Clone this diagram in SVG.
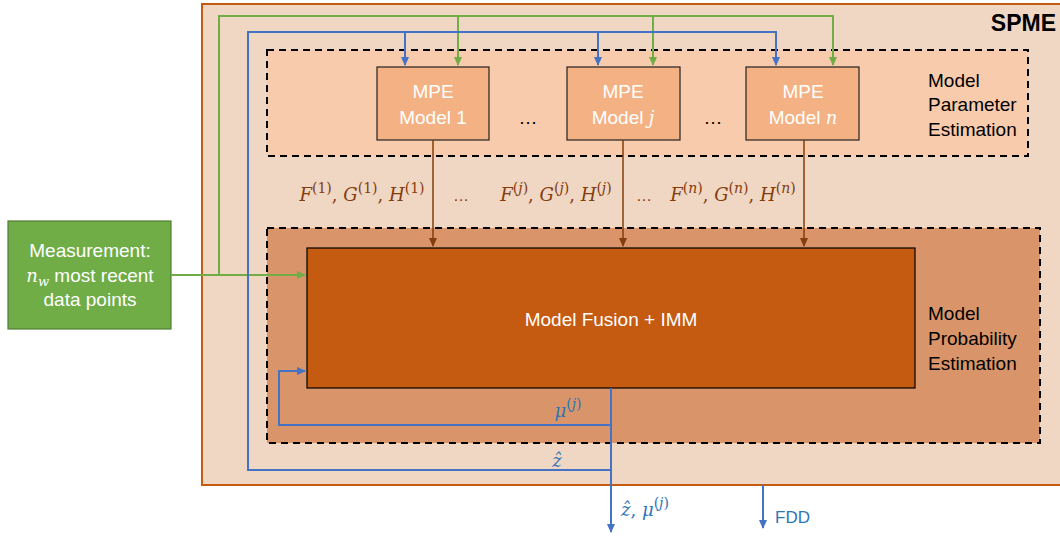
<svg xmlns="http://www.w3.org/2000/svg" width="1060" height="536" viewBox="0 0 1060 536">
<style>
.s{font-family:"Liberation Sans",Arial,sans-serif}
.w{fill:#fff;font-size:19px}
.k{fill:#000;font-size:19px}
.m{font-family:"DejaVu Serif","Liberation Serif",serif;font-style:italic;font-size:18px}
.up{font-style:normal}
.br{fill:#843C0C}
.bl{fill:#2E75B6}
.cg{fill:none;stroke:#70AD47;stroke-width:2}
.cb{fill:none;stroke:#4472C4;stroke-width:2}
.cr{fill:none;stroke:#843C0C;stroke-width:1.5}
</style>
<defs>
<marker id="ag" markerWidth="10" markerHeight="10" refX="8" refY="5" orient="auto" markerUnits="userSpaceOnUse"><path d="M0,1 L9,5 L0,9 Z" fill="#70AD47"/></marker>
<marker id="ab" markerWidth="10" markerHeight="10" refX="8" refY="5" orient="auto" markerUnits="userSpaceOnUse"><path d="M0,1 L9,5 L0,9 Z" fill="#4472C4"/></marker>
<marker id="ar" markerWidth="10" markerHeight="10" refX="8" refY="5" orient="auto" markerUnits="userSpaceOnUse"><path d="M0,1 L9,5 L0,9 Z" fill="#843C0C"/></marker>
</defs>

<g id="spme">
<rect x="202" y="4" width="870" height="481" fill="#F0D7C4" stroke="#C55A11" stroke-width="2"/>
<text x="1056" y="31" class="s" font-size="23" font-weight="bold" text-anchor="end" fill="#000">SPME</text>
</g>

<g id="mpe-area">
<rect x="267" y="50" width="761" height="106" fill="#F8CBAD" stroke="#000" stroke-width="2" stroke-dasharray="7,5"/>
<text class="s k" x="928"><tspan x="928" y="87">Model</tspan><tspan x="928" y="111">Parameter</tspan><tspan x="928" y="136">Estimation</tspan></text>
</g>

<g id="mpe-area-lower">
<rect x="267" y="228" width="773" height="215" fill="#D99569" stroke="#000" stroke-width="2" stroke-dasharray="7,5"/>
<text class="s k" x="928"><tspan x="928" y="320">Model</tspan><tspan x="928" y="345">Probability</tspan><tspan x="928" y="370">Estimation</tspan></text>
</g>

<g id="mpe1">
<rect x="377" y="67" width="112" height="73" fill="#F4B183" stroke="#222" stroke-width="1.2"/>
<text class="s w" text-anchor="middle"><tspan x="433" y="98">MPE</tspan><tspan x="433" y="124">Model 1</tspan></text>
</g>
<g id="mpej">
<rect x="567" y="67" width="113" height="73" fill="#F4B183" stroke="#222" stroke-width="1.2"/>
<text class="s w" text-anchor="middle"><tspan x="623" y="98">MPE</tspan><tspan x="623" y="124">Model <tspan class="m" fill="#fff">j</tspan></tspan></text>
</g>
<g id="mpen">
<rect x="746" y="67" width="113" height="73" fill="#F4B183" stroke="#222" stroke-width="1.2"/>
<text class="s w" text-anchor="middle"><tspan x="803" y="98">MPE</tspan><tspan x="803" y="124">Model <tspan class="m" fill="#fff">n</tspan></tspan></text>
</g>
<g id="dots-top">
<text class="s k" x="528" y="124" text-anchor="middle">…</text>
<text class="s k" x="713" y="124" text-anchor="middle">…</text>
</g>

<g id="fusion">
<rect x="307" y="248" width="608" height="140" fill="#C55A11" stroke="#000" stroke-width="1.2"/>
<text class="s w" x="611" y="326" text-anchor="middle">Model Fusion + IMM</text>
</g>

<g id="measurement">
<rect x="8" y="221" width="163" height="108" fill="#70AD47" stroke="#507E32" stroke-width="1.2"/>
<text class="s w" x="90" y="257" text-anchor="middle">Measurement:</text>
<text class="s w" x="90" y="282" text-anchor="middle"><tspan class="m" fill="#fff">n<tspan font-size="13" dy="4">w</tspan></tspan><tspan dy="-4"> most recent</tspan></text>
<text class="s w" x="90" y="306" text-anchor="middle">data points</text>
</g>

<g id="connectors">
<path class="cg" d="M171,275 H305" marker-end="url(#ag)"/>
<path class="cg" d="M219,275 V16 H833 V65" marker-end="url(#ag)"/>
<path class="cg" d="M458,16 V65" marker-end="url(#ag)"/>
<path class="cg" d="M653,16 V65" marker-end="url(#ag)"/>
<path class="cb" d="M611,388 V532" marker-end="url(#ab)"/>
<path class="cb" d="M611,425 H279 V371 H305" marker-end="url(#ab)"/>
<path class="cb" d="M611,470 H248 V32 H776 V65" marker-end="url(#ab)"/>
<path class="cb" d="M405,32 V65" marker-end="url(#ab)"/>
<path class="cb" d="M598,32 V65" marker-end="url(#ab)"/>
<path class="cb" d="M763,485 V528" marker-end="url(#ab)"/>
<path class="cr" d="M433,140 V246" marker-end="url(#ar)"/>
<path class="cr" d="M623,140 V246" marker-end="url(#ar)"/>
<path class="cr" d="M804,140 V246" marker-end="url(#ar)"/>
</g>

<g id="labels">
<text class="m br" x="362" y="201" text-anchor="middle">F<tspan class="up" font-size="14" dy="-8">(1)</tspan><tspan class="up" dy="8">, </tspan>G<tspan class="up" font-size="14" dy="-8">(1)</tspan><tspan class="up" dy="8">, </tspan>H<tspan class="up" font-size="14" dy="-8">(1)</tspan></text>
<text class="m br" x="556" y="201" text-anchor="middle">F<tspan class="up" font-size="14" dy="-8">(</tspan><tspan font-size="14">j</tspan><tspan class="up" font-size="14">)</tspan><tspan class="up" dy="8">, </tspan>G<tspan class="up" font-size="14" dy="-8">(</tspan><tspan font-size="14">j</tspan><tspan class="up" font-size="14">)</tspan><tspan class="up" dy="8">, </tspan>H<tspan class="up" font-size="14" dy="-8">(</tspan><tspan font-size="14">j</tspan><tspan class="up" font-size="14">)</tspan></text>
<text class="m br" x="733" y="201" text-anchor="middle">F<tspan class="up" font-size="14" dy="-8">(</tspan><tspan font-size="14">n</tspan><tspan class="up" font-size="14">)</tspan><tspan class="up" dy="8">, </tspan>G<tspan class="up" font-size="14" dy="-8">(</tspan><tspan font-size="14">n</tspan><tspan class="up" font-size="14">)</tspan><tspan class="up" dy="8">, </tspan>H<tspan class="up" font-size="14" dy="-8">(</tspan><tspan font-size="14">n</tspan><tspan class="up" font-size="14">)</tspan></text>
<text class="s br" x="461" y="201" font-size="16" text-anchor="middle">…</text>
<text class="s br" x="644" y="201" font-size="16" text-anchor="middle">…</text>
<text class="m bl" x="568" y="417" text-anchor="middle">μ<tspan class="up" font-size="14" dy="-8">(</tspan><tspan font-size="14">j</tspan><tspan class="up" font-size="14">)</tspan></text>
<text class="m bl" x="557" y="467" text-anchor="middle">ẑ</text>
<text class="m bl" x="621" y="516">ẑ<tspan class="up">, </tspan>μ<tspan class="up" font-size="14" dy="-8">(</tspan><tspan font-size="14">j</tspan><tspan class="up" font-size="14">)</tspan></text>
<text class="s bl" x="775" y="523" font-size="17">FDD</text>
</g>
</svg>
